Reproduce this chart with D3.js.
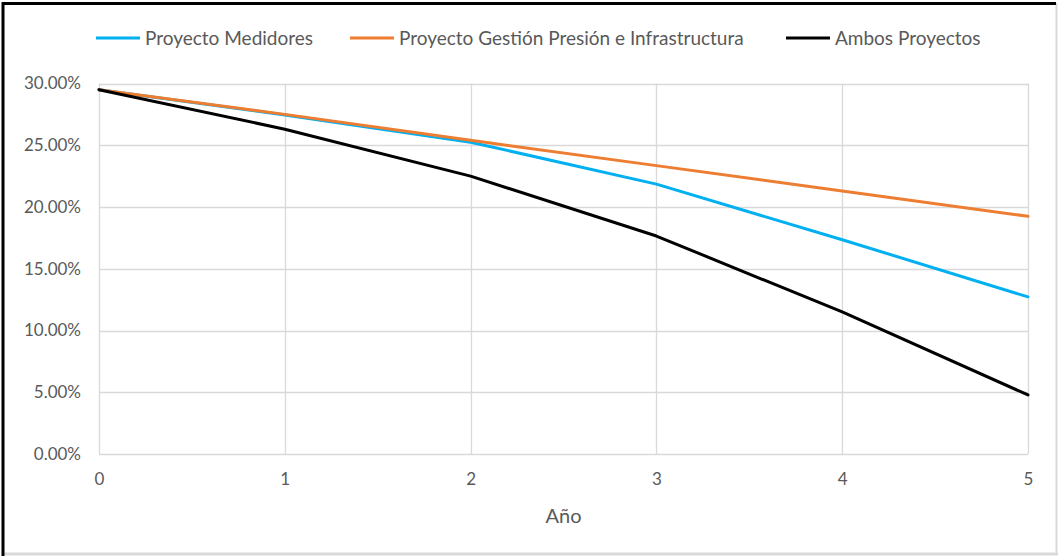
<!DOCTYPE html>
<html><head><meta charset="utf-8">
<script src="https://cdn.jsdelivr.net/npm/d3@7"></script>
<style>
html,body{margin:0;padding:0;background:#fff;}
svg{display:block;font-family:Lato,"Open Sans",sans-serif;}
</style></head>
<body>
<svg id="chart" width="1058" height="556"></svg>
<script>
const years = [0, 1, 2, 3, 4, 5];
const seriesNames = ["Proyecto Medidores", "Proyecto Gestión Presión e Infrastructura", "Ambos Proyectos"];
const medidores = [29.5, 27.45, 25.25, 21.85, 17.35, 12.72];
const gestion   = [29.5, 27.5, 25.4, 23.35, 21.3, 19.25];
const ambos     = [29.5, 26.3, 22.5, 17.65, 11.5, 4.78];
const yTicks = [0, 5, 10, 15, 20, 25, 30];
const colors = ["#00B0F0", "#ED7D31", "#000000"];
const xTitle = "Año";

const svg = d3.select("#chart");
const W = 1058, H = 556;
const m = {left: 99, right: 1028, top: 83.5, bottom: 454};

// frame
svg.append("rect").attr("x",0).attr("y",0).attr("width",W).attr("height",H).attr("fill","#fff");
svg.append("line").attr("x1",1056.5).attr("x2",1056.5).attr("y1",3).attr("y2",555).attr("stroke","#d9d9d9").attr("stroke-width",2);
svg.append("line").attr("x1",2).attr("x2",1058).attr("y1",554).attr("y2",554).attr("stroke","#d9d9d9").attr("stroke-width",3);
svg.append("line").attr("x1",2).attr("x2",1056).attr("y1",3.5).attr("y2",3.5).attr("stroke","#000").attr("stroke-width",3);
svg.append("line").attr("x1",3).attr("x2",3).attr("y1",2).attr("y2",556).attr("stroke","#000").attr("stroke-width",3);

const x = d3.scaleLinear().domain([0,5]).range([m.left, m.right]);
const y = d3.scaleLinear().domain([0,30]).range([m.bottom, m.top]);

// grid
const gy = svg.append("g");
gy.selectAll("line").data(yTicks).join("line")
  .attr("x1", m.left).attr("x2", m.right)
  .attr("y1", d => Math.round(y(d))+0.5).attr("y2", d => Math.round(y(d))+0.5)
  .attr("stroke", "#d9d9d9").attr("stroke-width", 1.3);
const gx = svg.append("g");
gx.selectAll("line").data(years).join("line")
  .attr("x1", d => Math.round(x(d))+0.5).attr("x2", d => Math.round(x(d))+0.5)
  .attr("y1", m.top).attr("y2", m.bottom)
  .attr("stroke", "#d9d9d9").attr("stroke-width", 1.3);

// y axis labels
const yAxis = d3.axisLeft(y).tickValues(yTicks).tickFormat(d => d.toFixed(2) + "%").tickSize(0).tickPadding(0);
const ya = svg.append("g").attr("transform", `translate(81,0)`).call(yAxis);
ya.select(".domain").remove();
ya.selectAll("text").attr("font-size", 17).attr("fill", "#595959").attr("font-family", "Lato, sans-serif");

// x axis labels
const xAxis = d3.axisBottom(x).tickValues(years).tickFormat(d3.format("d")).tickSize(0).tickPadding(0);
const xa = svg.append("g").attr("transform", `translate(0,473)`).call(xAxis);
xa.select(".domain").remove();
xa.selectAll("text").attr("font-size", 17).attr("fill", "#595959").attr("font-family", "Lato, sans-serif");

// axis title
svg.append("text").attr("x", (m.left+m.right)/2).attr("y", 523).attr("text-anchor","middle")
  .attr("font-size", 20).attr("fill","#595959").text(xTitle);

// lines
const data = [medidores, gestion, ambos];
const line = d3.line().x((d,i) => x(years[i])).y(d => y(d));
svg.append("g").selectAll("path").data(data).join("path")
  .attr("d", d => line(d)).attr("fill","none")
  .attr("stroke", (d,i) => colors[i]).attr("stroke-width", 3)
  .attr("stroke-linejoin","round").attr("stroke-linecap","round");

// legend
const legendX = [96, 350, 786];
const lg = svg.append("g").selectAll("g").data(seriesNames).join("g")
  .attr("transform", (d,i) => `translate(${legendX[i]},38)`);
lg.append("line").attr("x1",0).attr("x2",44).attr("y1",0).attr("y2",0)
  .attr("stroke", (d,i) => colors[i]).attr("stroke-width",3);
lg.append("text").attr("x",49).attr("y",6.5).attr("font-size",19).attr("fill","#595959").text(d => d);
</script>
</body></html>
